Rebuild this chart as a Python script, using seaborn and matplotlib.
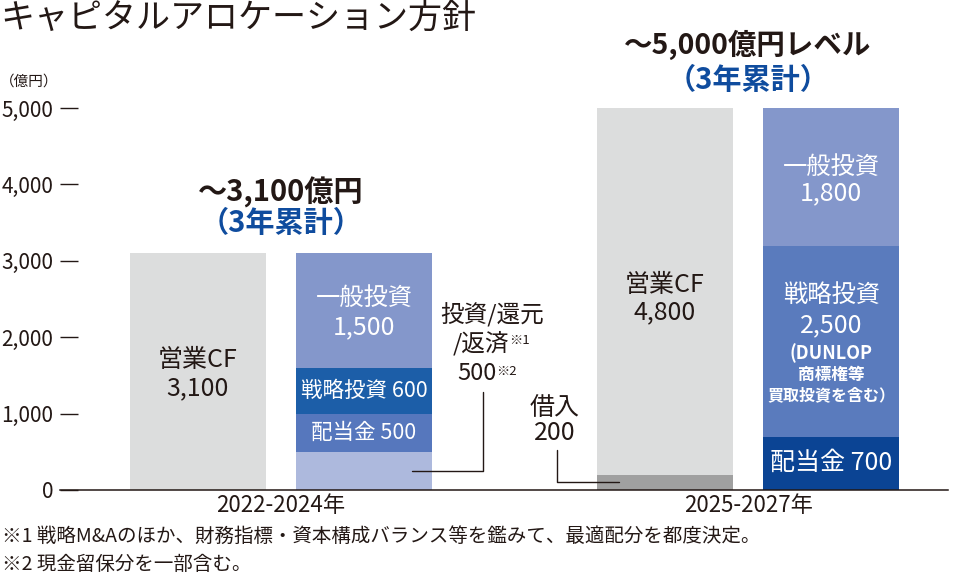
import matplotlib
matplotlib.use("Agg")
import matplotlib.pyplot as plt
import seaborn as sns
import pandas as pd

sns.set_theme(style="white")
plt.rcParams['font.family'] = ['Noto Sans CJK JP', 'DejaVu Sans']

# ---------------- data ----------------
periods = ["2022-2024年", "2025-2027年"]
bar_kinds = ["CF", "alloc"]

cf_values = [3100, 4800]          # 営業CF
borrow_values = [0, 200]          # 借入
other_values = [500, 0]           # 投資/還元/返済
dividend_values = [500, 700]      # 配当金
strategic_values = [600, 2500]    # 戦略投資
general_values = [1500, 1800]     # 一般投資
total_labels = ["～3,100億円", "～5,000億円レベル"]
yticks = [0, 1000, 2000, 3000, 4000, 5000]

# ---------------- styles ----------------
DARK = "#231815"
BLUE_TXT = "#0f4c9e"
GREY = "#dcdddd"
DGREY = "#a0a0a0"
GEN = "#8497cb"
OTHER = "#adb9dd"
STRAT = ["#1c5ea8", "#5a7bbd"]
DIV = ["#5677bd", "#0b4494"]

W, GAP = 0.711, 0.181

fig = plt.figure(figsize=(9.6, 5.77), dpi=100)
ax = fig.add_axes([60 / 960, 87 / 577, 888 / 960, 382 / 577])

rows = []
for i, p in enumerate(periods):
    segs = [
        ("CF", "借入", borrow_values[i], DGREY),
        ("CF", "営業CF", cf_values[i], GREY),
        ("alloc", "投資/還元/返済", other_values[i], OTHER),
        ("alloc", "配当金", dividend_values[i], DIV[i]),
        ("alloc", "戦略投資", strategic_values[i], STRAT[i]),
        ("alloc", "一般投資", general_values[i], GEN),
    ]
    base = {"CF": 0, "alloc": 0}
    for kind, name, v, c in segs:
        rows.append(dict(period=p, bar=kind, seg=name, value=v, bottom=base[kind], color=c))
        base[kind] += v
df = pd.DataFrame(rows)

for _, r in df.iterrows():
    if r["value"] <= 0:
        continue
    sub = pd.DataFrame({"period": [r["period"]], "bar": [r["bar"]], "value": [r["value"]]})
    sns.barplot(data=sub, x="period", y="value", hue="bar", order=periods,
                hue_order=bar_kinds, palette={k: r["color"] for k in bar_kinds},
                dodge=True, width=W, gap=GAP, bottom=r["bottom"], errorbar=None,
                legend=False, saturation=1, linewidth=0, ax=ax)

U = 1.901 / 888  # data units per pixel (x)
ax.set_xlim(-0.473, 1.428)
ax.set_ylim(0, 5000)

def xc(i, kind):
    return i + (bar_kinds.index(kind) - 0.5) * W / 2

half = W / 2 * (1 - GAP) / 2  # half bar width

# axes styling
for s in ["top", "right", "left"]:
    ax.spines[s].set_visible(False)
ax.spines["bottom"].set_color(DARK)
ax.spines["bottom"].set_linewidth(1.1)
ax.set_yticks(yticks)
ax.set_yticklabels([f"{v:,}" for v in yticks])
ax.tick_params(axis="y", direction="in", length=13, width=1, color=DARK,
               labelsize=15, labelcolor=DARK, pad=5, left=True)
ax.tick_params(axis="x", length=0, labelsize=16, labelcolor=DARK, pad=3)
ax.set_xlabel("")
ax.set_ylabel("")
ax.grid(False)

def seg_mid(i, kind, name):
    r = df[(df.period == periods[i]) & (df.bar == kind) & (df.seg == name)].iloc[0]
    return r["bottom"] + r["value"] / 2

# --- labels in bars ---
txt = dict(ha="center", va="center")
for i in range(2):
    ax.text(xc(i, "CF"), [1702, 2683][i], "営業CF", color=DARK, fontsize=18, **txt)
    ax.text(xc(i, "CF"), [1335, 2330][i], f"{cf_values[i]:,}", color=DARK, fontsize=18, **txt)
    ax.text(xc(i, "alloc"), [2513, 4228][i], "一般投資", color="white", fontsize=17.5, **txt)
    ax.text(xc(i, "alloc"), [2134, 3887][i], f"{general_values[i]:,}", color="white", fontsize=18, **txt)

ax.text(xc(0, "alloc"), seg_mid(0, "alloc", "戦略投資"), f"戦略投資 {strategic_values[0]:,}",
        color="white", fontsize=15.5, **txt)
ax.text(xc(0, "alloc"), seg_mid(0, "alloc", "配当金"), f"配当金 {dividend_values[0]:,}",
        color="white", fontsize=15.5, **txt)

ax.text(xc(1, "alloc"), 2552, "戦略投資", color="white", fontsize=17.5, **txt)
ax.text(xc(1, "alloc"), 2160, f"{strategic_values[1]:,}", color="white", fontsize=18, **txt)
ax.text(xc(1, "alloc"), 1793, "(DUNLOP", color="white", fontsize=13, fontweight="bold", **txt)
ax.text(xc(1, "alloc"), 1505, "商標権等", color="white", fontsize=12, fontweight="bold", **txt)
ax.text(xc(1, "alloc"), 1243, "買取投資を含む）", color="white", fontsize=11.5, fontweight="bold", **txt)
ax.text(xc(1, "alloc"), seg_mid(1, "alloc", "配当金"), f"配当金 {dividend_values[1]:,}",
        color="white", fontsize=18, **txt)

# --- totals above ---
for i, (ytop, ysub) in enumerate([(3901, 3495), (5825, 5366)]):
    ax.text(i, ytop, total_labels[i], color=DARK, fontsize=[21, 20.5][i], fontweight="bold",
            clip_on=False, **txt)
    ax.text(i, ysub, "（3年累計）", color=BLUE_TXT, fontsize=21, fontweight="bold",
            clip_on=False, **txt)

# --- callout: 投資/還元/返済 ---
vx = xc(0, "alloc") + half + 51 * U
ex = xc(0, "alloc") + 48 * U
ym = seg_mid(0, "alloc", "投資/還元/返済")
ax.plot([vx, vx, ex], [1283, ym, ym], color=DARK, lw=1, clip_on=False)
ax.text(vx + 9 * U, 2290, "投資/還元", color=DARK, fontsize=17, **txt)
t1 = ax.text(vx - 2 * U, 1924, "/返済", color=DARK, fontsize=17, **txt)
t2 = ax.text(vx - 6 * U, 1531, f"{other_values[0]:,}", color=DARK, fontsize=17, **txt)
ax.annotate("※1", xy=(1.0, 0.85), xycoords=t1, ha="left", va="top", fontsize=9.5, color=DARK)
ax.annotate("※2", xy=(1.0, 0.85), xycoords=t2, ha="left", va="top", fontsize=9.5, color=DARK)

# --- callout: 借入 ---
vx2 = xc(1, "CF") - half - 40 * U
ex2 = xc(1, "CF") - 46 * U
ym2 = seg_mid(1, "CF", "借入")
ax.plot([vx2, vx2, ex2], [524, ym2, ym2], color=DARK, lw=1, clip_on=False)
ax.text(vx2 - 2 * U, 1073, "借入", color=DARK, fontsize=18, **txt)
ax.text(vx2 - 2 * U, 746, f"{borrow_values[1]:,}", color=DARK, fontsize=18, **txt)

# --- figure texts ---
fig.text(0.0, 1 - 18 / 577, "キャピタルアロケーション方針", fontsize=24.5, color=DARK,
         ha="left", va="center")
fig.text(0 / 960, 1 - 82 / 577, "（億円）", fontsize=10.5, color=DARK, ha="left", va="center")
fig.text(2 / 960, 1 - 536 / 577, "※1 戦略M&Aのほか、財務指標・資本構成バランス等を鑑みて、最適配分を都度決定。",
         fontsize=14, color=DARK, ha="left", va="center")
fig.text(2 / 960, 1 - 564 / 577, "※2 現金留保分を一部含む。", fontsize=14, color=DARK,
         ha="left", va="center")

fig.savefig("out.png", dpi=100, facecolor="white")
